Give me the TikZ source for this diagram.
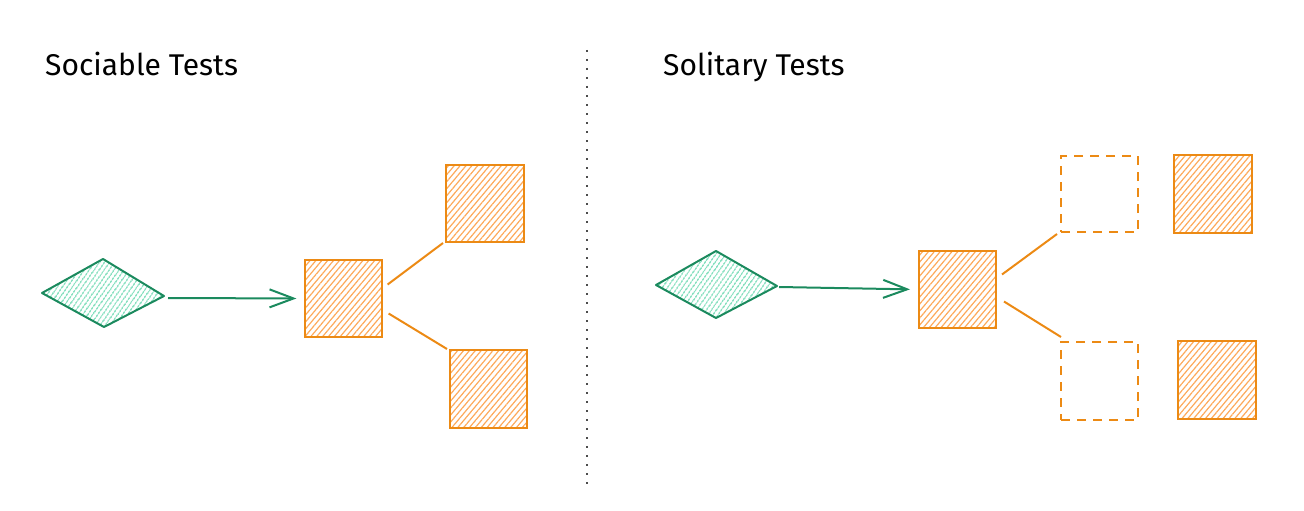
\documentclass[tikz,border=0pt]{standalone}
\usepackage{fontspec}
\setmainfont{Fira Sans}
\usetikzlibrary{patterns.meta,arrows.meta}
\definecolor{grn}{HTML}{1B8A5E}
\definecolor{grnfill}{HTML}{4FD1A2}
\definecolor{org}{HTML}{EC8A14}
\definecolor{orgfill}{HTML}{FDA95A}
\tikzset{
  title/.style={anchor=base west,inner sep=0pt,font=\fontsize{30}{34}\selectfont},
  obox/.style={draw=org,line width=2pt,pattern={Lines[angle=50,distance=4.5pt,line width=1.2pt]},pattern color=orgfill},
  dbox/.style={draw=org,line width=2pt,dash pattern=on 9pt off 7pt},
  gdia/.style={draw=grn,line width=2pt,pattern={Lines[angle=55,distance=4pt,line width=1.2pt]},pattern color=grnfill,line join=round},
  conn/.style={draw=org,line width=2pt},
  arr/.style={draw=grn,line width=2pt,shorten >=8pt,-{Straight Barb[length=24pt,width=18pt,line width=2pt]}},
}
\begin{document}
\begin{tikzpicture}[x=1pt,y=-1pt]
\useasboundingbox (0,0) rectangle (1304,511);
\node[title] (t1) at (45,75) {Sociable Tests};
\node[title] (t2) at (663,75) {Solitary Tests};
\coordinate (d1) at (587,50);
\coordinate (d2) at (587,487);
\draw[line width=2pt,dash pattern=on 2pt off 7pt,black!70] (d1) -- (d2);
% left
\path[gdia] (42,293) -- (103,259) -- (164,296) -- (104,327) -- cycle;
\coordinate (la) at (168,298);
\node[obox,minimum width=77pt,minimum height=77pt,inner sep=0pt] (lc) at (343.5,298.5) {};
\node[obox,minimum width=78pt,minimum height=77pt,inner sep=0pt] (lt) at (485,203.5) {};
\node[obox,minimum width=77pt,minimum height=78pt,inner sep=0pt] (lb) at (488.5,389) {};
\draw[arr] (la) -- (lc.west);
\draw[conn] ([shift={(5,-14)}]lc.east) -- ([shift={(-2,0)}]lt.south west);
\draw[conn] ([shift={(6,15)}]lc.east) -- ([shift={(-2,0)}]lb.north west);
% right
\path[gdia] (656,285) -- (716,251) -- (777,286) -- (716,318) -- cycle;
\coordinate (ra) at (779,287);
\node[obox,minimum width=77pt,minimum height=77pt,inner sep=0pt] (rc) at (957.5,289.5) {};
\node[dbox,minimum width=77pt,minimum height=76pt,inner sep=0pt] (rdt) at (1099.5,194) {};
\node[dbox,minimum width=77pt,minimum height=78pt,inner sep=0pt] (rdb) at (1099.5,381) {};
\node[obox,minimum width=78pt,minimum height=78pt,inner sep=0pt] (rft) at (1213,194) {};
\node[obox,minimum width=78pt,minimum height=78pt,inner sep=0pt] (rfb) at (1217,380) {};
\draw[arr] (ra) -- (rc.west);
\draw[conn] ([shift={(5,-15)}]rc.east) -- ([shift={(-3,1)}]rdt.south west);
\draw[conn] ([shift={(7,12)}]rc.east) -- ([shift={(1,-4)}]rdb.north west);
\end{tikzpicture}
\end{document}
